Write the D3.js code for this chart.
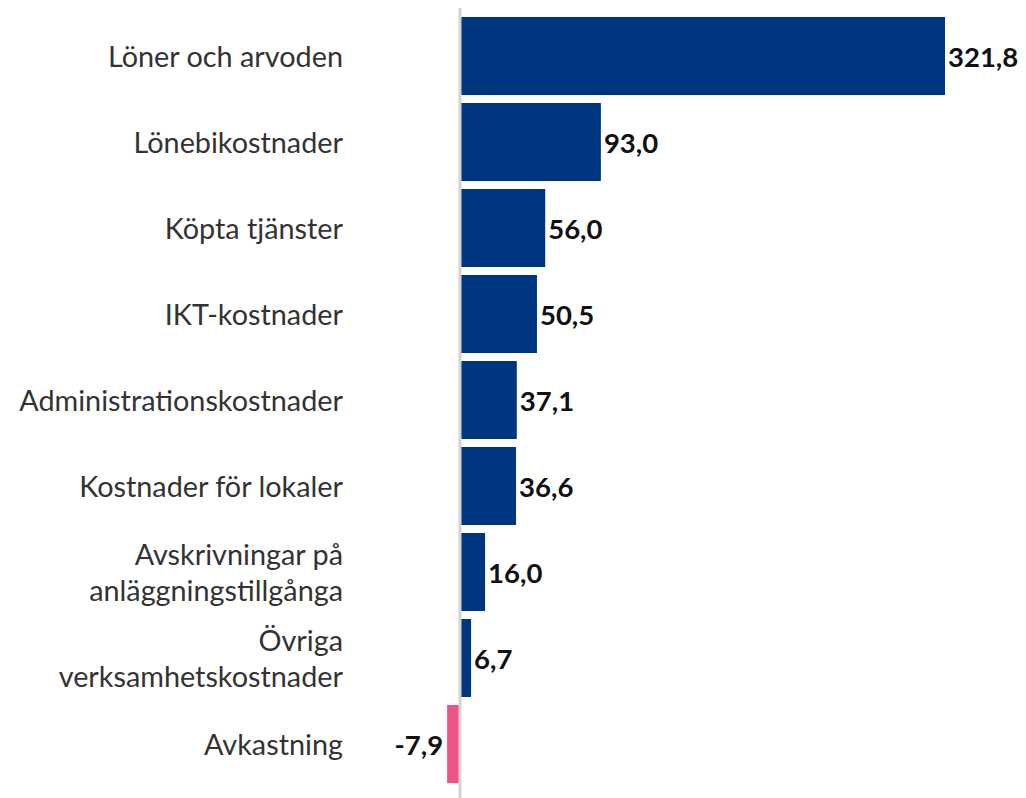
<!DOCTYPE html>
<html><head><meta charset="utf-8">
<script src="https://cdn.jsdelivr.net/npm/d3@7"></script>
<style>body{margin:0;background:#fff}svg{display:block}</style>
</head><body>
<script>
const categories = [
  ["Löner och arvoden"],
  ["Lönebikostnader"],
  ["Köpta tjänster"],
  ["IKT-kostnader"],
  ["Administrationskostnader"],
  ["Kostnader för lokaler"],
  ["Avskrivningar på", "anläggningstillgånga"],
  ["Övriga", "verksamhetskostnader"],
  ["Avkastning"]
];
const values = [321.8, 93.0, 56.0, 50.5, 37.1, 36.6, 16.0, 6.7, -7.9];

const W = 1026, H = 798;
const svg = d3.select("body").append("svg").attr("width", W).attr("height", H);

const keys = categories.map((c, i) => i);
const y = d3.scaleBand().domain(keys).range([13, 13 + 9 * 86]).paddingInner(0.093).paddingOuter(0.0465);
const x = d3.scaleLinear().domain([0, 321.8]).range([460, 944]);

const fmt = v => v.toFixed(1).replace(".", ",");
const blue = "#003580", pink = "#EF5189";

svg.selectAll("rect.bar").data(values).join("rect")
  .attr("class", "bar")
  .attr("x", d => d >= 0 ? x(0) + 1 : x(d) - 1)
  .attr("width", d => Math.abs(x(d) - x(0)))
  .attr("y", (d, i) => y(i))
  .attr("height", y.bandwidth())
  .attr("fill", d => d >= 0 ? blue : pink);

svg.append("line").attr("x1", x(0)).attr("x2", x(0)).attr("y1", 8).attr("y2", H)
  .attr("stroke", "#d3d3d3").attr("stroke-width", 3);

svg.selectAll("text.val").data(values).join("text")
  .attr("class", "val")
  .attr("x", d => d >= 0 ? x(d) + 4 : x(d) - 5)
  .attr("y", (d, i) => y(i) + y.bandwidth() / 2 + 1)
  .attr("dy", "0.35em")
  .attr("text-anchor", d => d >= 0 ? "start" : "end")
  .attr("font-family", "Lato, sans-serif").attr("font-weight", "bold").attr("font-size", 27.5)
  .attr("fill", "#111")
  .text(fmt);

const lab = svg.selectAll("text.cat").data(categories).join("text")
  .attr("class", "cat")
  .attr("text-anchor", "end")
  .attr("font-family", "Lato, sans-serif").attr("font-size", 28.8)
  .attr("fill", "#333");
lab.each(function (lines, i) {
  const cy = y(i) + y.bandwidth() / 2 + 1;
  const lh = 36;
  d3.select(this).selectAll("tspan").data(lines).join("tspan")
    .attr("x", 343)
    .attr("y", (l, j) => cy + (j - (lines.length - 1) / 2) * lh)
    .attr("dy", "0.35em")
    .text(l => l);
});
</script>
</body></html>
